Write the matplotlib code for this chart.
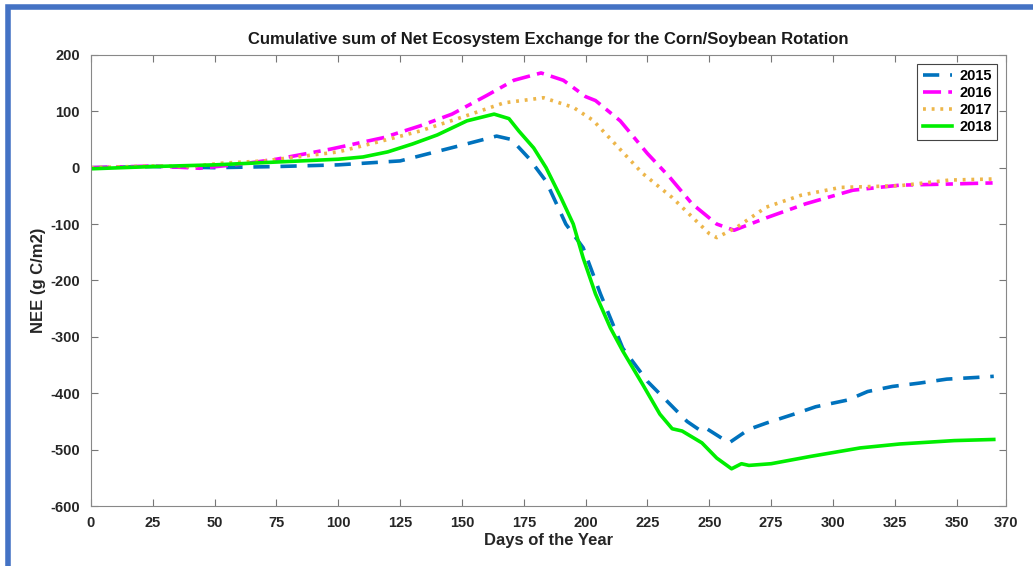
import matplotlib.pyplot as plt
from matplotlib.patches import Rectangle

# cumulative NEE (g C/m2), by day of year
days_2015 = [0, 25, 50, 75, 100, 125, 150, 164, 170, 177, 184, 192, 199, 206, 215, 225,
             241, 247, 249, 258, 266, 273, 285, 293, 306, 314, 324, 335, 346, 358, 365]
nee_2015 = [0, 2, 0, 2, 5, 12, 40, 56, 50, 17, -24, -100, -142, -224, -320, -379,
            -450, -468, -463, -488, -464, -453, -436, -424, -412, -397, -388, -382, -375, -372, -370]

days_2016 = [0, 25, 44, 60, 75, 97, 118, 133, 146, 160, 171, 182, 191, 200, 204, 214,
             225, 234, 243, 253, 260, 273, 289, 308, 327, 347, 365]
nee_2016 = [0, 3, -1, 6, 15, 33, 53, 74, 95, 128, 155, 168, 155, 126, 119, 83,
            25, -17, -64, -100, -111, -89, -64, -40, -31, -29, -27]

days_2017 = [0, 25, 40, 53, 70, 100, 120, 133, 149, 167, 183, 195, 203, 213, 223, 235,
             250, 253, 261, 273, 287, 303, 327, 347, 365]
nee_2017 = [0, 3, 2, 8, 12, 28, 50, 65, 88, 115, 124, 107, 84, 37, -10, -53,
            -117, -124, -106, -70, -49, -35, -32, -22, -20]

days_2018 = [0, 25, 50, 75, 100, 110, 120, 130, 140, 152, 163, 169, 173, 179, 184, 190, 195,
             199, 204, 210, 215, 223, 230, 235, 239, 247, 253, 259, 263, 266, 275, 291,
             311, 327, 349, 365]
nee_2018 = [-2, 2, 5, 10, 15, 19, 28, 42, 58, 83, 95, 87, 65, 35, 0, -53, -100,
            -160, -224, -284, -325, -384, -437, -463, -467, -488, -515, -534, -525, -528, -525, -512,
            -497, -490, -484, -482]

x_ticks = [0, 25, 50, 75, 100, 125, 150, 175, 200, 225, 250, 275, 300, 325, 350, 370]
y_ticks = [-600, -500, -400, -300, -200, -100, 0, 100, 200]

plt.rcParams['font.family'] = ['Liberation Sans', 'DejaVu Sans']
plt.rcParams['font.weight'] = 'bold'
plt.rcParams['axes.unicode_minus'] = False

fig = plt.figure(figsize=(10.33, 5.66), dpi=100)
ax = fig.add_axes([0.088, 0.106, 0.886, 0.797])

# slide frame around the chart
fig.patches.append(Rectangle((0.008, -0.1), 1.5, 1.087, transform=fig.transFigure,
                             fill=False, edgecolor='#4472C4', linewidth=4, zorder=0))

ax.plot(days_2015, nee_2015, color='#0072BD', linestyle=(0, (4.5, 3)), linewidth=2.6, label='2015')
ax.plot(days_2016, nee_2016, color='#FF00FF', linestyle=(0, (5, 2, 2, 2)), linewidth=2.6, label='2016')
ax.plot(days_2017, nee_2017, color='#EDB64A', linestyle=(0, (0.8, 1.6)), linewidth=2.6, label='2017')
ax.plot(days_2018, nee_2018, color='#00EE00', linestyle='-', linewidth=2.6, label='2018')

ax.set_xlim(0, 370)
ax.set_ylim(-600, 200)
ax.set_xticks(x_ticks)
ax.set_yticks(y_ticks)
ax.tick_params(direction='in', top=True, right=True, length=5, color='#777777',
               labelsize=10.5, labelcolor='#262626')
ax.tick_params(axis='x', pad=7)
ax.tick_params(axis='y', pad=8)
for sp in ax.spines.values():
    sp.set_color('#888888')

ax.set_title('Cumulative sum of Net Ecosystem Exchange for the Corn/Soybean Rotation',
             fontsize=12, fontweight='bold', color='#1a1a1a', pad=8)
ax.set_xlabel('Days of the Year', fontsize=12, fontweight='bold', color='#262626', labelpad=2)
ax.set_ylabel('NEE (g C/m2)', fontsize=12, fontweight='bold', color='#262626', labelpad=3)

leg = ax.legend(loc='upper right', fontsize=10.5, handlelength=2.0, borderaxespad=0.6,
                fancybox=False, edgecolor='#444444', framealpha=1, labelspacing=0.2,
                handletextpad=0.5)
leg.get_frame().set_linewidth(0.8)

fig.savefig('out.png', dpi=100)
